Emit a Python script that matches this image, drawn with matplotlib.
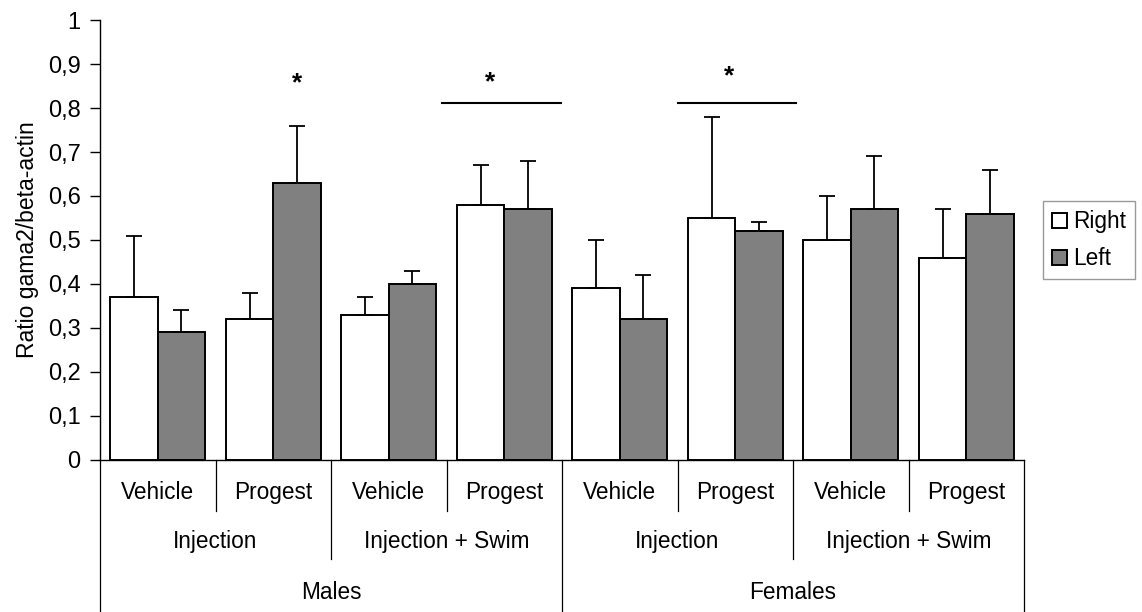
import matplotlib
matplotlib.use("Agg")
import matplotlib.pyplot as plt
import matplotlib.transforms as mtransforms
import numpy as np

plt.rcParams['font.family'] = ['Liberation Sans', 'DejaVu Sans']

# gamma2 / beta-actin ratio, mean and mean+SEM, per hemisphere
treatments = ['Vehicle', 'Progest'] * 4
protocols = ['Injection', 'Injection + Swim'] * 2
sexes = ['Males', 'Females']
right_mean = [0.37, 0.32, 0.33, 0.58, 0.39, 0.55, 0.50, 0.46]
right_top = [0.51, 0.38, 0.37, 0.67, 0.50, 0.78, 0.60, 0.57]
left_mean = [0.29, 0.63, 0.40, 0.57, 0.32, 0.52, 0.57, 0.56]
left_top = [0.34, 0.76, 0.43, 0.68, 0.42, 0.54, 0.69, 0.66]
yticks = [0, 0.1, 0.2, 0.3, 0.4, 0.5, 0.6, 0.7, 0.8, 0.9, 1]

right_err = np.array(right_top) - np.array(right_mean)
left_err = np.array(left_top) - np.array(left_mean)

fig = plt.figure(figsize=(11.42, 6.12), dpi=100)
ax = fig.add_axes([0.0876, 0.2484, 0.8091, 0.7189])

n = len(treatments)
x = np.arange(n) + 0.5
w = 0.41
zeros = np.zeros(n)
ekw = dict(ecolor='black', elinewidth=1.3, capsize=5.5, capthick=1.3)
ax.bar(x - w / 2, right_mean, w, color='white', edgecolor='black', linewidth=1.4,
       yerr=[zeros, right_err], error_kw=ekw, label='Right', zorder=3)
ax.bar(x + w / 2, left_mean, w, color='#808080', edgecolor='black', linewidth=1.4,
       yerr=[zeros, left_err], error_kw=ekw, label='Left', zorder=3)

ax.set_xlim(0, n)
ax.set_ylim(0, 1)
ax.set_yticks(yticks)
ax.set_yticklabels([('%g' % v).replace('.', ',') for v in yticks], fontsize=17)
ax.tick_params(axis='y', length=7, width=1, pad=7)
ax.set_xticks([])
ax.set_ylabel('Ratio gama2/beta-actin', fontsize=16.5, labelpad=6)
for s in ['top', 'right']:
    ax.spines[s].set_visible(False)
ax.spines['left'].set_linewidth(1)
ax.spines['bottom'].set_linewidth(1)

# hierarchical category axis below the bars
trans = mtransforms.blended_transform_factory(ax.transData, ax.transAxes)
line_kw = dict(color='black', linewidth=0.9, transform=trans, clip_on=False)
for i in range(n + 1):
    if i % 4 == 0:
        y_end = -0.36
    elif i % 2 == 0:
        y_end = -0.225
    else:
        y_end = -0.116
    ax.plot([i, i], [0, y_end], **line_kw)

for i, t in enumerate(treatments):
    ax.text(i + 0.5, -0.073, t, transform=trans, ha='center', va='center', fontsize=16.3)
for i, p in enumerate(protocols):
    ax.text(2 * i + 1, -0.186, p, transform=trans, ha='center', va='center', fontsize=16.3)
for i, s in enumerate(sexes):
    ax.text(4 * i + 2, -0.302, s, transform=trans, ha='center', va='center', fontsize=16.3)

# significance marks
star_kw = dict(ha='center', va='center', fontsize=19, fontweight='bold')
ax.text(x[1] + w / 2, 0.855, '*', **star_kw)
ax.plot([2.96, 3.99], [0.812, 0.812], color='black', linewidth=1.5)
ax.text(3.38, 0.858, '*', **star_kw)
ax.plot([5.0, 6.03], [0.812, 0.812], color='black', linewidth=1.5)
ax.text(5.45, 0.871, '*', **star_kw)

leg = fig.legend(loc='upper left', bbox_to_anchor=(0.9133, 0.6716), fontsize=16.3,
                 handlelength=0.65, handleheight=0.65, handletextpad=0.3,
                 borderpad=0.4, labelspacing=0.62, fancybox=False, frameon=True,
                 borderaxespad=0)
leg.get_frame().set_edgecolor('#808080')
leg.get_frame().set_linewidth(1)

fig.savefig('out.png', dpi=100)
